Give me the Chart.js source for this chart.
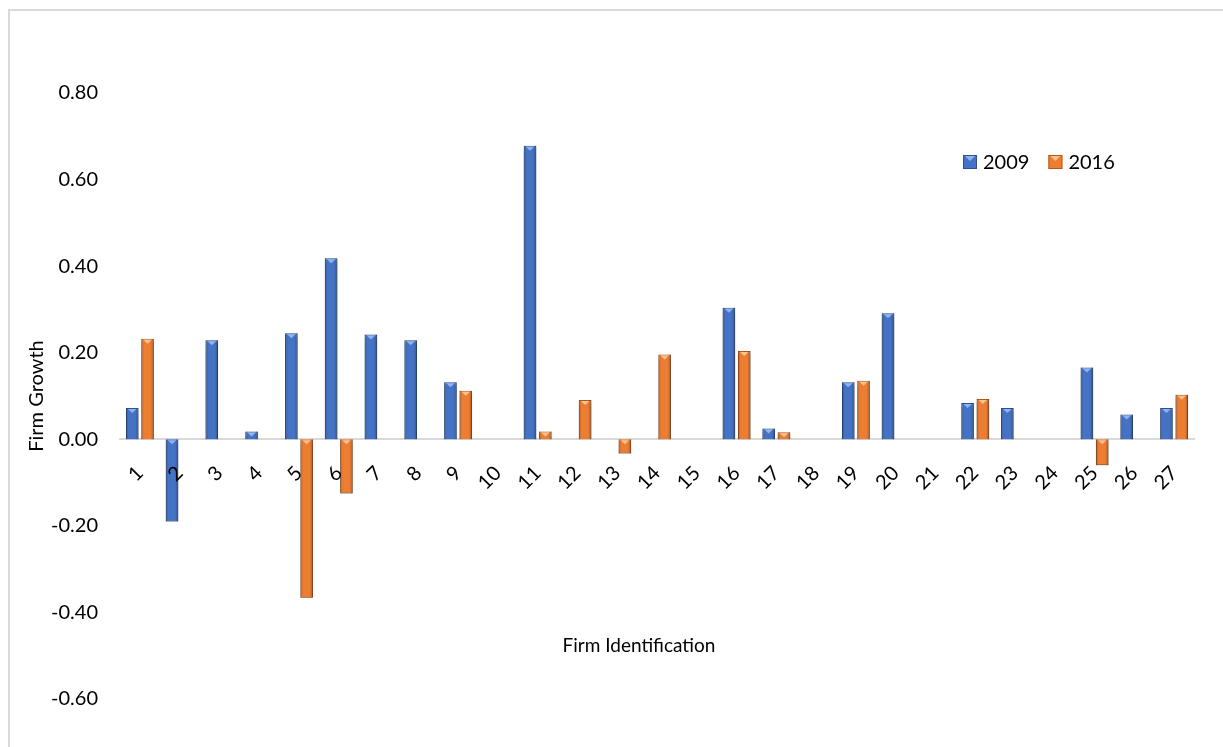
<!DOCTYPE html>
<html>
<head>
<meta charset="utf-8">
<script src="https://cdn.jsdelivr.net/npm/chart.js@4.4.1/dist/chart.umd.min.js"></script>
<style>
  html, body { margin: 0; padding: 0; background: #ffffff; }
  #c { position: absolute; left: 0; top: 0; }
</style>
</head>
<body>
<canvas id="c" width="1223" height="747"></canvas>
<script>
// ---- data ----
const firms = ['1','2','3','4','5','6','7','8','9','10','11','12','13','14','15','16','17','18','19','20','21','22','23','24','25','26','27'];
const growth2009 = [0.072, -0.19, 0.229, 0.018, 0.245, 0.418, 0.242, 0.229, 0.132, null, 0.678, null, null, null, null, 0.304, 0.025, null, 0.132, 0.291, null, 0.084, 0.072, null, 0.166, 0.057, 0.072];
const growth2016 = [0.232, null, null, null, -0.366, -0.125, null, null, 0.112, null, 0.018, 0.091, -0.033, 0.196, null, 0.204, 0.016, null, 0.135, null, null, 0.093, null, null, -0.06, null, 0.103];
const seriesNames = ['2009', '2016'];
const yTickLabels = ['-0.60', '-0.40', '-0.20', '0.00', '0.20', '0.40', '0.60', '0.80'];
const yAxisTitle = 'Firm Growth';
const xAxisTitle = 'Firm Identification';

const FONT = 'Lato, "Open Sans", "Noto Sans", sans-serif';
const BLUE = '#4472C4', BLUE_DARK = '#2F528F', BLUE_CAP = '#8DB3F0';
const ORANGE = '#ED7D31', ORANGE_DARK = '#B55A1E', ORANGE_CAP = '#FAC08F';

// frame + background
const framePlugin = {
  id: 'frame',
  beforeDraw(chart) {
    const ctx = chart.ctx;
    ctx.save();
    ctx.fillStyle = '#ffffff';
    ctx.fillRect(0, 0, chart.width, chart.height);
    ctx.strokeStyle = '#d9d9d9';
    ctx.lineWidth = 2;
    ctx.strokeRect(9, 10, chart.width + 50, chart.height + 50);
    ctx.restore();
  }
};

// bevel look of the bars
const barStyle = {
  id: 'barStyle',
  beforeDatasetDraw(chart) {
    const ctx = chart.ctx;
    ctx.save();
    ctx.shadowColor = 'rgba(0,0,0,0.30)';
    ctx.shadowBlur = 4;
    ctx.shadowOffsetY = 3;
  },
  afterDatasetDraw(chart, args) {
    const ctx = chart.ctx;
    ctx.restore();
    const ds = chart.data.datasets[args.index];
    args.meta.data.forEach((bar, i) => {
      if (ds.data[i] === null || ds.data[i] === undefined) return;
      const p = bar.getProps(['x', 'y', 'base', 'width'], true);
      const top = Math.min(p.y, p.base), bottom = Math.max(p.y, p.base);
      const left = p.x - p.width / 2;
      const h = bottom - top;
      ctx.save();
      const g = ctx.createLinearGradient(left, 0, left + p.width, 0);
      g.addColorStop(0, 'rgba(0,0,0,0.22)');
      g.addColorStop(0.22, 'rgba(0,0,0,0)');
      g.addColorStop(0.75, 'rgba(0,0,0,0)');
      g.addColorStop(1, 'rgba(0,0,0,0.30)');
      ctx.fillStyle = g;
      ctx.fillRect(left, top, p.width, h);
      const th = Math.min(4, h - 1);
      if (th > 0) {
        ctx.fillStyle = ds.capColor;
        ctx.beginPath();
        ctx.moveTo(left + 2, top + 1);
        ctx.lineTo(left + p.width - 2, top + 1);
        ctx.lineTo(p.x, top + 1 + th);
        ctx.closePath();
        ctx.fill();
      }
      ctx.restore();
    });
  }
};

// legend and axis title drawn in place
const annotations = {
  id: 'annotations',
  afterDraw(chart) {
    const ctx = chart.ctx;
    const area = chart.chartArea;
    ctx.save();
    // x axis title
    ctx.font = '19px ' + FONT;
    ctx.fillStyle = '#000';
    ctx.textAlign = 'center';
    ctx.textBaseline = 'middle';
    ctx.fillText(xAxisTitle, (area.left + area.right) / 2 - 18, 646);
    // legend
    ctx.font = '20px ' + FONT;
    ctx.textAlign = 'left';
    let x = 963;
    const cy = 162;
    chart.data.datasets.forEach(ds => {
      ctx.fillStyle = ds.backgroundColor;
      ctx.fillRect(x, cy - 7, 14, 14);
      ctx.strokeStyle = ds.borderColor;
      ctx.lineWidth = 1;
      ctx.strokeRect(x + 0.5, cy - 6.5, 13, 13);
      ctx.fillStyle = ds.capColor;
      ctx.beginPath();
      ctx.moveTo(x + 2, cy - 6);
      ctx.lineTo(x + 12, cy - 6);
      ctx.lineTo(x + 7, cy - 1);
      ctx.closePath();
      ctx.fill();
      ctx.fillStyle = '#000';
      ctx.fillText(ds.label, x + 20, cy + 1);
      x += 20 + ctx.measureText(ds.label).width + 19;
    });
    ctx.restore();
  }
};

new Chart(document.getElementById('c'), {
  type: 'bar',
  data: {
    labels: firms,
    datasets: [
      { label: seriesNames[0], data: growth2009, backgroundColor: BLUE, borderColor: BLUE_DARK, capColor: BLUE_CAP, borderWidth: 1 },
      { label: seriesNames[1], data: growth2016, backgroundColor: ORANGE, borderColor: ORANGE_DARK, capColor: ORANGE_CAP, borderWidth: 1 }
    ]
  },
  options: {
    responsive: false,
    animation: false,
    devicePixelRatio: 1,
    layout: { padding: { top: 93, bottom: 48, left: 0, right: 29 } },
    datasets: { bar: { categoryPercentage: 0.77, barPercentage: 0.82 } },
    plugins: {
      legend: { display: false },
      title: { display: false },
      tooltip: { enabled: false }
    },
    scales: {
      x: {
        position: { y: 0 },
        offset: true,
        grid: { display: false, drawTicks: false },
        border: { display: true, color: '#d9d9d9', width: 2 },
        ticks: {
          z: 1,
          autoSkip: false, minRotation: 45, maxRotation: 45, padding: 22,
          color: '#000', font: { family: FONT, size: 20 }
        }
      },
      y: {
        min: -0.6, max: 0.8,
        afterBuildTicks: (scale) => { scale.ticks = yTickLabels.map(s => ({ value: parseFloat(s), label: s })); },
        afterFit: (scale) => { scale.width = 120; },
        grid: { display: false, drawTicks: false },
        border: { display: false },
        ticks: {
          padding: 22, color: '#000', font: { family: FONT, size: 20 },
          callback: (v) => Number(v).toFixed(2)
        },
        title: { display: true, text: yAxisTitle, color: '#000', font: { family: FONT, size: 20 }, padding: { top: 25, bottom: 0 } }
      }
    }
  },
  plugins: [framePlugin, barStyle, annotations]
});
</script>
</body>
</html>
